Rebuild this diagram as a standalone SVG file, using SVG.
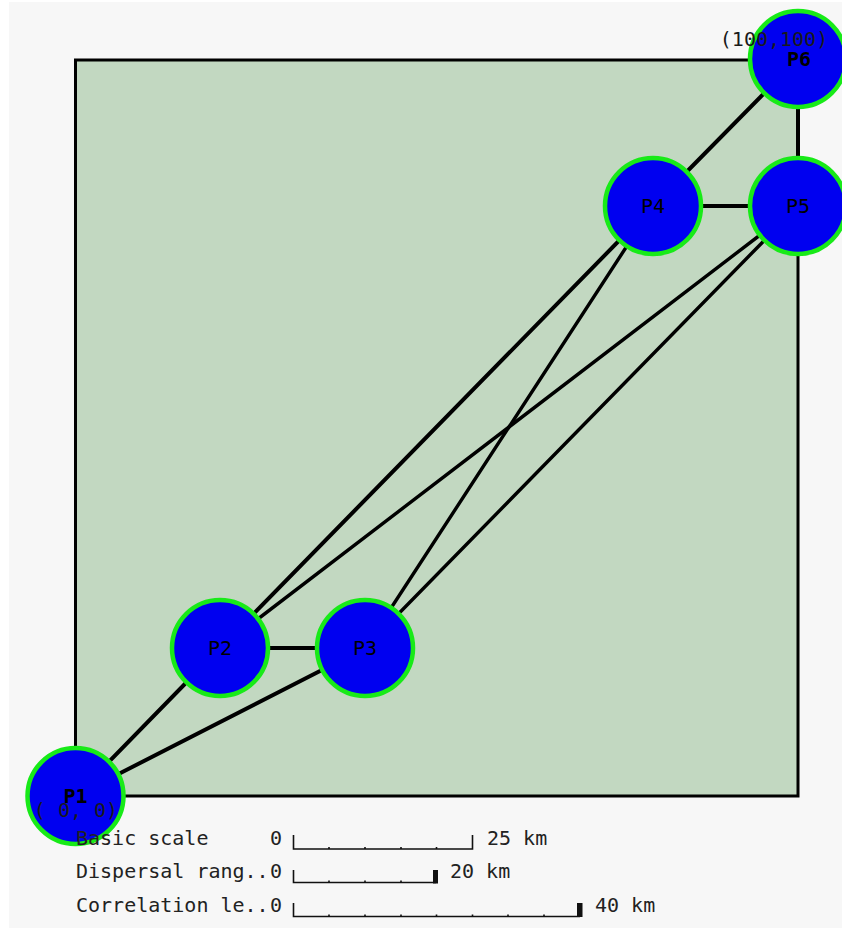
<svg xmlns="http://www.w3.org/2000/svg" width="842" height="930" viewBox="0 0 842 930">
  <style>
    .plot { fill: #c2d8c1; stroke: #000; stroke-width: 3; }
    .edge { stroke: #000; stroke-width: 4; stroke-linecap: round; }
    .edge.thin { stroke-width: 3.4; }
    .node circle { fill: #0000f0; stroke: #18ea18; stroke-width: 4.5; }
    .lbl { font-family: "DejaVu Sans Mono", "Liberation Mono", monospace; font-size: 20px; fill: #000; text-anchor: middle; }
    .lbl.b { font-weight: bold; }
    .coord { font-family: "DejaVu Sans Mono", "Liberation Mono", monospace; font-size: 20px; fill: #1a1a1a; }
    .legend { font-family: "DejaVu Sans Mono", "Liberation Mono", monospace; font-size: 20px; fill: #222; }
    .bar { fill: none; stroke: #111; stroke-width: 1.6; }
    .tick { stroke: #111; stroke-width: 1.6; }
  </style>

  <!-- page -->
  <rect x="0" y="0" width="842" height="930" fill="#ffffff"/>
  <rect x="9" y="2" width="833" height="926" fill="#f7f7f7"/>

  <!-- study area -->
  <rect class="plot" x="75.5" y="60" width="722.5" height="736"/>

  <!-- connections -->
  <g id="edges">
    <line class="edge" x1="75.5" y1="796" x2="220" y2="648"/>
    <line class="edge" x1="75.5" y1="796" x2="365" y2="648"/>
    <line class="edge" x1="220" y1="648" x2="365" y2="648"/>
    <line class="edge" x1="220" y1="648" x2="653" y2="206"/>
    <line class="edge thin" x1="220" y1="648" x2="798" y2="206"/>
    <line class="edge thin" x1="365" y1="648" x2="653" y2="206"/>
    <line class="edge thin" x1="365" y1="648" x2="798" y2="206"/>
    <line class="edge" x1="653" y1="206" x2="798" y2="206"/>
    <line class="edge" x1="653" y1="206" x2="798" y2="59"/>
    <line class="edge" x1="798" y1="206" x2="798" y2="59"/>
  </g>

  <!-- patches -->
  <g id="P1" class="node">
    <circle cx="75.5" cy="796" r="48"/>
    <text class="lbl b" x="75.5" y="803">P1</text>
    <text class="coord" x="76" y="817" text-anchor="middle" xml:space="preserve">( 0, 0)</text>
  </g>
  <g id="P2" class="node">
    <circle cx="220" cy="648" r="48"/>
    <text class="lbl" x="220" y="655">P2</text>
  </g>
  <g id="P3" class="node">
    <circle cx="365" cy="648" r="48"/>
    <text class="lbl" x="365" y="655">P3</text>
  </g>
  <g id="P4" class="node">
    <circle cx="653" cy="206" r="48"/>
    <text class="lbl" x="653" y="213">P4</text>
  </g>
  <g id="P5" class="node">
    <circle cx="798" cy="206" r="48"/>
    <text class="lbl" x="798" y="213">P5</text>
  </g>
  <g id="P6" class="node">
    <circle cx="798" cy="59" r="48"/>
    <text class="lbl b" x="799" y="66">P6</text>
    <text class="coord" x="774" y="46" text-anchor="middle">(100,100)</text>
  </g>

  <!-- scale bars -->
  <g id="legend">
    <text class="legend" x="76" y="845">Basic scale</text>
    <text class="legend" x="270" y="845">0</text>
    <path class="bar" d="M293.5,835 V849 H472.5 V835"/>
    <path class="tick" d="M329,847 V849 M365,847 V849 M401,847 V849 M436.5,847 V849"/>
    <text class="legend" x="487" y="845">25 km</text>

    <text class="legend" x="76" y="878">Dispersal rang..</text>
    <text class="legend" x="270" y="878">0</text>
    <path class="bar" d="M293.5,870 V882.5 H436"/>
    <path class="tick" d="M329,880.5 V882.5 M365,880.5 V882.5 M401,880.5 V882.5"/>
    <rect x="433" y="870" width="5" height="13.5" fill="#111"/>
    <text class="legend" x="450" y="878">20 km</text>

    <text class="legend" x="76" y="912">Correlation le..</text>
    <text class="legend" x="270" y="912">0</text>
    <path class="bar" d="M293.5,903 V916.5 H580"/>
    <path class="tick" d="M329,914.5 V916.5 M365,914.5 V916.5 M401,914.5 V916.5 M436.5,914.5 V916.5 M472.5,914.5 V916.5 M508,914.5 V916.5 M544,914.5 V916.5"/>
    <rect x="577" y="903" width="5.5" height="14" fill="#111"/>
    <text class="legend" x="595" y="912">40 km</text>
  </g>
</svg>
